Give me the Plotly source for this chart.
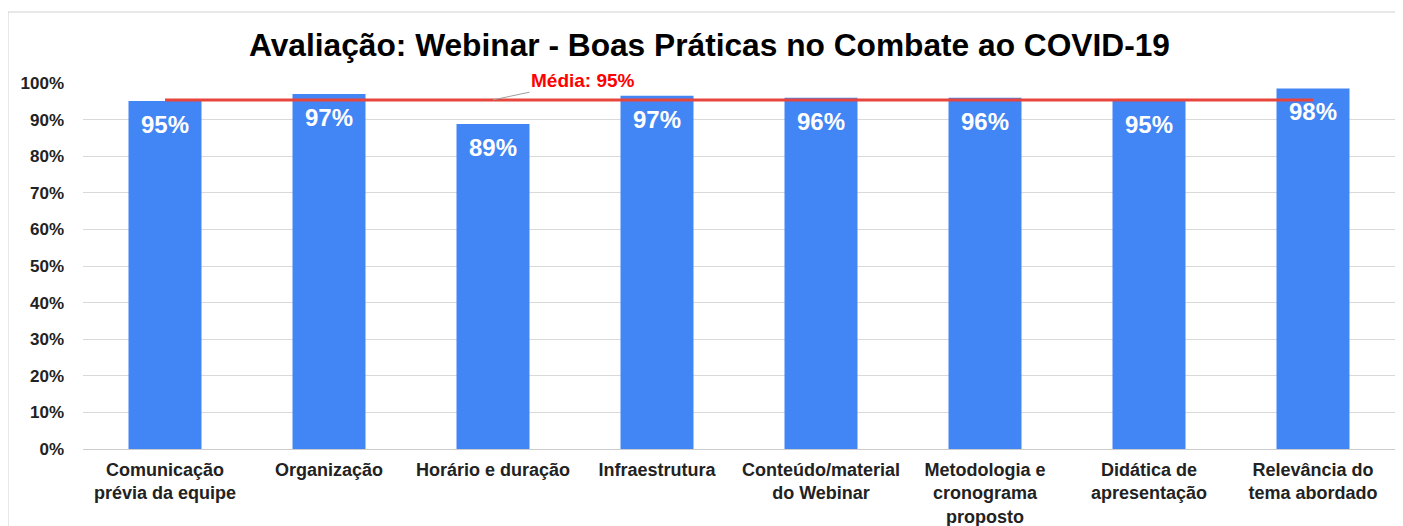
import plotly.graph_objects as go

categories = [
    "Comunicação<br>prévia da equipe",
    "Organização",
    "Horário e duração",
    "Infraestrutura",
    "Conteúdo/material<br>do Webinar",
    "Metodologia e<br>cronograma<br>proposto",
    "Didática de<br>apresentação",
    "Relevância do<br>tema abordado",
]
values = [0.951, 0.970, 0.888, 0.965, 0.960, 0.960, 0.952, 0.985]
labels = ["95%", "97%", "89%", "97%", "96%", "96%", "95%", "98%"]
mean_value = sum(values) / len(values)
mean_label = "Média: 95%"
title = "Avaliação: Webinar - Boas Práticas no Combate ao COVID-19"

font_family = "Arial, Liberation Sans, Helvetica, sans-serif"

W, H = 1403, 526
ML, MR, MT, MB = 75, 16, 75, 85
PW = W - ML - MR
PH = H - MT - MB

fig = go.Figure()
fig.add_trace(go.Bar(
    x=categories, y=values,
    marker=dict(color="#4285f4", line=dict(width=0)),
    width=0.445, hoverinfo="x+y",
))
fig.add_trace(go.Scatter(
    x=[categories[0], categories[-1]], y=[mean_value, mean_value],
    mode="lines", line=dict(color="#e8453c", width=3),
    hoverinfo="skip",
))
for c, v, t in zip(categories, values, labels):
    fig.add_annotation(
        x=c, y=v, xref="x", yref="y", text="<b>" + t + "</b>",
        showarrow=False, yanchor="top", yshift=-8,
        font=dict(color="white", size=24, family=font_family),
    )
fig.add_annotation(
    x=categories[2], y=mean_value, xref="x", yref="y",
    text="<b>" + mean_label + "</b>", showarrow=True, arrowhead=0,
    arrowcolor="#9e9e9e", arrowwidth=1, ax=90, ay=-19, standoff=0,
    font=dict(color="#ff0000", size=19, family=font_family),
)
fig.add_shape(type="rect", xref="paper", yref="paper",
              x0=(0 - ML) / PW, x1=(W + 40 - ML) / PW,
              y0=-0.4, y1=1 + (MT - 4) / PH,
              line=dict(color="#d0d0d0", width=1), fillcolor="rgba(0,0,0,0)", layer="below")

fig.update_layout(
    width=W, height=H,
    margin=dict(l=ML, r=MR, t=MT, b=MB),
    paper_bgcolor="white", plot_bgcolor="white",
    showlegend=False,
    title=dict(text="<b>" + title + "</b>", x=0.5, xanchor="center",
               y=1 - 37 / H, yanchor="middle",
               font=dict(size=31.7, color="black", family=font_family)),
    font=dict(family=font_family),
)
fig.update_yaxes(range=[0, 1], dtick=0.1, tickformat=".0%",
                 showgrid=True, gridcolor="#d9d9d9", gridwidth=1,
                 zeroline=True, zerolinecolor="#cccccc", zerolinewidth=1,
                 tickfont=dict(size=17, color="#222222", family=font_family),
                 ticks="", ticklabelstandoff=18,
                 tickprefix="<b>", ticksuffix="</b>")
fig.update_xaxes(tickfont=dict(size=18, color="#222222", family=font_family),
                 showgrid=False, ticks="", tickangle=0, showline=False,
                 ticklabelstandoff=8, automargin=False,
                 tickprefix="<b>", ticksuffix="</b>")

fig.write_html("out.html")
